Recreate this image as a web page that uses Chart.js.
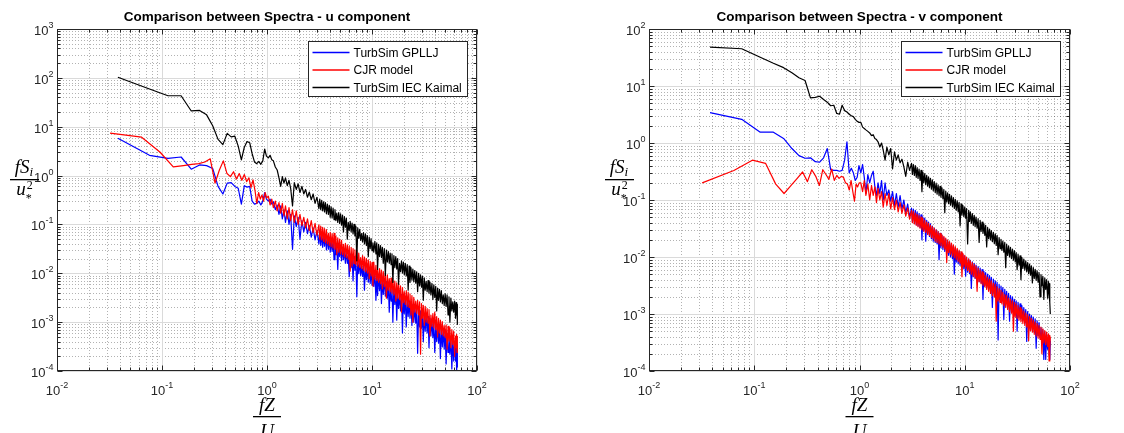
<!DOCTYPE html>
<html>
<head>
<meta charset="utf-8">
<title>Comparison between Spectra</title>
<script src="https://cdn.jsdelivr.net/npm/chart.js@4.4.1/dist/chart.umd.min.js"></script>
<style>
  html, body { margin: 0; padding: 0; background: #fff; }
  .panel { position: absolute; top: 0; width: 562px; height: 433px; }
</style>
</head>
<body>
<div class="panel" style="left:0px"><canvas id="chartU" width="562" height="433"></canvas></div>
<div class="panel" style="left:562px"><canvas id="chartV" width="562" height="433"></canvas></div>
<script>
// ---------- data ----------
// frequency bins (fZ/U): TurbSim series start at 0.038, CJR model at 0.032
const fLowBK = [0.038,0.076,0.114,0.152,0.19,0.228,0.266,0.304,0.342,0.38,0.418,0.456,0.494,0.532,0.57,0.608,0.646,0.684,0.722,0.76,0.798,0.836,0.874,0.912,0.95,0.988];
const fLowR = [0.032,0.064,0.096,0.128,0.16,0.192,0.224,0.256,0.288,0.32,0.352,0.384,0.416,0.448,0.48,0.512,0.544,0.576,0.608,0.64,0.672,0.704,0.736,0.768,0.8,0.832,0.864,0.896,0.928,0.96,0.992];
// sampled higher frequencies, shared by all series
const fMid = [1.03,1.07,1.11,1.15,1.2,1.25,1.3,1.35,1.4,1.45,1.5,1.56,1.62,1.68,1.75,1.82,1.9,1.98,2.06,2.15,2.24,2.33,2.43,2.53,2.64,2.75,2.87,2.99];
const fTail = [3.12,3.18,3.25,3.32,3.39,3.46,3.53,3.6,3.68,3.76,
  3.84,3.92,4.0,4.08,4.17,4.26,4.35,4.44,4.53,4.62,
  4.72,4.82,4.92,5.02,5.13,5.24,5.35,5.46,5.58,5.7,
  5.82,5.94,6.07,6.2,6.33,6.46,6.6,6.74,6.88,7.02,
  7.17,7.32,7.48,7.64,7.8,7.96,8.13,8.3,8.48,8.66,
  8.84,9.03,9.22,9.41,9.61,9.8,10.0,10.2,10.4,10.65,
  10.9,11.1,11.3,11.55,11.8,12.05,12.3,12.55,12.8,13.1,
  13.4,13.7,14.0,14.3,14.6,14.9,15.2,15.5,15.8,16.15,
  16.5,16.85,17.2,17.55,17.9,18.3,18.7,19.1,19.5,19.9,
  20.3,20.75,21.2,21.65,22.1,22.55,23.0,23.5,24.0,24.5,
  25.0,25.55,26.1,26.65,27.2,27.8,28.4,29.0,29.6,30.2,
  30.8,31.45,32.1,32.8,33.5,34.2,34.9,35.65,36.4,37.2,
  38.0,38.8,39.6,40.45,41.3,42.15,43.0,43.9,44.8,45.75,
  46.7,47.7,48.7,49.75,50.8,51.9,53.0,54.1,55.2,56.4,
  57.6,58.8,60.0,61.25,62.5,63.25,64.0,64.5,65.0];

// u component
const uGPLLJ = [5.8,2.6,2.25,2.4,1.35,1.65,1.6,1.4,0.6,0.42,0.7,0.72,0.6,0.55,0.26,0.62,0.58,0.6,0.3,0.26,0.27,0.3,0.25,0.3,0.45,0.33,
  0.3,0.33,0.26,0.29,0.2,0.25,0.16,0.24,0.13,0.2,0.11,0.19,0.1,0.16,0.031,0.15,0.09,0.14,0.05,0.12,0.07,0.11,0.065,0.095,0.055,0.085,0.048,0.075,
  0.04,0.072,0.037,0.064,0.034,0.06,0.036,0.058,0.03,0.055,
  0.031,0.052,0.027,0.048,0.028,0.046,0.019,0.043,0.024,0.036,
  0.012,0.038,0.022,0.034,0.018,0.033,0.019,0.03,0.016,0.029,
  0.016,0.023,0.0085,0.025,0.013,0.023,0.007,0.022,0.0115,0.02,
  0.0033,0.019,0.0098,0.0175,0.009,0.014,0.0086,0.015,0.0045,0.014,
  0.0074,0.013,0.0066,0.0122,0.0062,0.0115,0.0057,0.0112,0.0054,0.0105,
  0.0028,0.0098,0.0035,0.0092,0.0044,0.0086,0.0024,0.008,0.0037,0.0074,
  0.0034,0.0068,0.0031,0.0063,0.0016,0.0052,0.0027,0.0054,0.001,0.005,
  0.0023,0.0046,0.0011,0.0043,0.0019,0.0034,0.0017,0.0037,0.0006,0.0034,
  0.0015,0.0032,0.0008,0.0029,0.0013,0.0027,0.0012,0.0025,0.00085,0.0023,
  0.001,0.0021,0.00095,0.002,0.00023,0.0018,0.0008,0.0017,0.00075,0.0014,
  0.0004,0.0015,0.00065,0.0014,0.0006,0.0013,0.0003,0.0012,0.00052,0.0011,
  0.00048,0.001,0.00024,0.00082,0.0004,0.00088,0.00037,0.00082,0.00018,0.00076,
  0.00031,0.0007,0.00028,0.00064,0.00014,0.00058,0.00024,0.00053,0.00022,0.00049,
  0.00011,0.00045,0.00016,0.00041,0.00016,0.00037,0.00009,0.00034,0.00012];
const uCJR = [7.4,6.1,3.0,1.5,1.6,1.7,1.75,1.9,2.2,0.7,1.3,2.0,1.1,0.95,1.2,0.85,1.1,0.8,1.05,0.75,0.9,0.57,0.82,0.5,0.27,0.45,0.33,0.4,0.3,0.45,0.35,
  0.38,0.25,0.33,0.22,0.3,0.19,0.28,0.17,0.27,0.15,0.24,0.13,0.22,0.12,0.2,0.11,0.19,0.1,0.16,0.095,0.14,0.085,0.13,0.075,0.12,0.068,0.105,0.06,
  0.098,0.05,0.092,0.048,0.087,0.045,0.082,0.042,0.078,0.04,
  0.066,0.037,0.069,0.035,0.065,0.033,0.066,0.031,0.057,0.024,
  0.053,0.027,0.05,0.025,0.047,0.024,0.039,0.022,0.041,0.021,
  0.038,0.0195,0.036,0.011,0.034,0.014,0.032,0.016,0.03,0.015,
  0.028,0.014,0.026,0.0132,0.021,0.0124,0.023,0.0116,0.0215,0.0108,
  0.02,0.0101,0.0188,0.0078,0.0176,0.0088,0.0165,0.0055,0.017,0.0076,
  0.0145,0.0071,0.012,0.0066,0.0125,0.0061,0.0116,0.0048,0.0108,0.0053,
  0.01,0.0031,0.0093,0.0045,0.0078,0.0042,0.008,0.0039,0.0074,0.0036,
  0.0069,0.0027,0.0064,0.0031,0.0064,0.0029,0.0055,0.0016,0.0051,0.0025,
  0.0042,0.0023,0.0044,0.0021,0.0041,0.002,0.0038,0.0014,0.0035,0.001,
  0.0032,0.0016,0.0027,0.0015,0.0028,0.0014,0.0026,0.00022,0.0024,0.0012,
  0.0022,0.00085,0.0021,0.001,0.0019,0.00095,0.0018,0.00052,0.0014,0.00082,
  0.0015,0.00076,0.0016,0.0007,0.0013,0.0005,0.0012,0.0006,0.0011,0.00056,
  0.00102,0.00052,0.00085,0.00048,0.00088,0.00028,0.00082,0.00041,0.00076,0.0003,
  0.0007,0.00035,0.00065,0.0002,0.00052,0.0003,0.00056,0.00024,0.00052];
const uKaimal = [103,59,43,43,21,21.5,17.5,10.5,5.5,4.3,7.3,6.2,6.4,4.0,2.1,3.8,5.0,4.7,2.8,1.9,1.75,1.95,1.7,2.0,3.5,2.5,
  2.3,2.6,2.1,2.0,1.5,1.3,0.9,0.6,0.95,0.7,0.9,0.62,0.8,0.55,0.24,0.72,0.52,0.68,0.45,0.6,0.42,0.52,0.36,0.46,0.32,0.42,0.27,0.36,
  0.21,0.33,0.2,0.31,0.19,0.29,0.18,0.28,0.165,0.26,
  0.16,0.245,0.14,0.23,0.135,0.215,0.125,0.2,0.12,0.17,
  0.11,0.175,0.105,0.165,0.097,0.155,0.07,0.145,0.088,0.135,
  0.05,0.11,0.075,0.115,0.07,0.107,0.064,0.1,0.058,0.092,
  0.018,0.085,0.052,0.079,0.047,0.065,0.044,0.068,0.04,0.064,
  0.037,0.059,0.022,0.055,0.032,0.051,0.029,0.042,0.027,0.045,
  0.025,0.042,0.012,0.039,0.022,0.037,0.021,0.034,0.016,0.032,
  0.009,0.03,0.017,0.028,0.016,0.026,0.015,0.025,0.0065,0.023,
  0.013,0.022,0.0122,0.02,0.006,0.016,0.0108,0.018,0.0101,0.017,
  0.0094,0.016,0.0088,0.015,0.0045,0.014,0.0065,0.013,0.0072,0.0122,
  0.0067,0.0114,0.0063,0.0107,0.0042,0.01,0.0055,0.0093,0.0052,0.0087,
  0.0028,0.0081,0.0045,0.0068,0.0042,0.0071,0.0039,0.0066,0.0036,0.0062,
  0.0029,0.0058,0.0032,0.0054,0.0017,0.005,0.0028,0.0047,0.0026,0.0044,
  0.0024,0.0036,0.0022,0.0038,0.0021,0.0036,0.0014,0.0033,0.001,0.0031,
  0.0017,0.0026,0.0016,0.0027,0.0012,0.0025,0.0014,0.0023,0.0009];

// v component
const vGPLLJ = [3.4,2.6,1.55,1.55,1.2,0.8,0.6,0.54,0.55,0.47,0.46,0.55,0.8,0.34,0.33,0.33,0.32,0.33,0.5,1.05,0.3,0.36,0.3,0.22,0.25,0.4,
  0.3,0.42,0.25,0.13,0.28,0.2,0.27,0.32,0.17,0.12,0.2,0.13,0.22,0.1,0.2,0.12,0.15,0.095,0.14,0.08,0.13,0.075,0.12,0.07,0.1,0.06,0.085,0.05,
  0.072,0.042,0.069,0.04,0.066,0.037,0.062,0.035,0.058,0.033,
  0.055,0.02,0.05,0.029,0.048,0.019,0.044,0.025,0.041,0.023,
  0.038,0.021,0.035,0.019,0.032,0.018,0.03,0.017,0.028,0.009,
  0.026,0.0145,0.024,0.0135,0.022,0.0125,0.0205,0.0115,0.019,0.0107,
  0.0178,0.01,0.0166,0.0093,0.0155,0.005,0.0145,0.0081,0.0135,0.0076,
  0.0126,0.0071,0.0118,0.0066,0.011,0.0062,0.0103,0.0046,0.0097,0.0054,
  0.0092,0.0051,0.0087,0.0028,0.0082,0.0045,0.0077,0.0042,0.0072,0.004,
  0.0068,0.0037,0.0064,0.0035,0.006,0.0018,0.0056,0.0031,0.0053,0.0029,
  0.005,0.0027,0.0047,0.0026,0.0044,0.0013,0.0041,0.0023,0.0038,0.0021,
  0.0036,0.00035,0.0033,0.0018,0.0031,0.0017,0.0029,0.0008,0.0027,0.0015,
  0.0025,0.0014,0.0023,0.00075,0.0021,0.0012,0.002,0.0011,0.0018,0.001,
  0.0017,0.0005,0.0016,0.00088,0.0015,0.00082,0.0014,0.00076,0.0013,0.0007,
  0.0012,0.00033,0.0011,0.0006,0.001,0.00056,0.00094,0.00052,0.00088,0.00048,
  0.00082,0.00025,0.00076,0.00042,0.00071,0.00039,0.00058,0.00031,0.00053,0.00016,
  0.00048,0.00016,0.00044,0.00024,0.0004,0.00021,0.00037,0.00016,0.00034];
const vCJR = [0.2,0.33,0.5,0.44,0.19,0.13,0.18,0.24,0.31,0.21,0.34,0.26,0.18,0.34,0.28,0.23,0.35,0.22,0.27,0.24,0.26,0.25,0.2,0.19,0.15,0.22,0.14,0.095,0.19,0.17,0.2,
  0.2,0.14,0.22,0.12,0.19,0.1,0.18,0.12,0.17,0.09,0.16,0.1,0.14,0.075,0.13,0.08,0.13,0.07,0.11,0.068,0.1,0.062,0.09,0.058,0.082,0.052,0.072,0.046,
  0.066,0.04,0.063,0.038,0.059,0.036,0.056,0.034,0.053,0.032,
  0.05,0.03,0.047,0.028,0.044,0.027,0.041,0.025,0.039,0.024,
  0.036,0.022,0.034,0.021,0.032,0.019,0.03,0.018,0.028,0.017,
  0.026,0.0158,0.0245,0.0148,0.023,0.0138,0.0215,0.008,0.02,0.012,
  0.0187,0.0112,0.0175,0.0104,0.0163,0.0097,0.0152,0.009,0.0142,0.0084,
  0.0132,0.0078,0.0123,0.0045,0.0115,0.0068,0.0107,0.0063,0.01,0.0058,
  0.0093,0.0054,0.0086,0.005,0.008,0.0046,0.0074,0.0043,0.0069,0.0025,
  0.0064,0.0037,0.0059,0.0034,0.0055,0.0032,0.0051,0.003,0.0047,0.0027,
  0.0044,0.0025,0.0041,0.0023,0.0038,0.0021,0.0035,0.002,0.0033,0.00075,
  0.003,0.0017,0.0028,0.0016,0.0026,0.0015,0.0024,0.0014,0.0022,0.0013,
  0.0021,0.0012,0.0019,0.0011,0.0018,0.00103,0.0017,0.0005,0.0016,0.0009,
  0.0015,0.00084,0.0014,0.00078,0.0013,0.00073,0.0012,0.00068,0.00112,0.00063,
  0.00104,0.00059,0.00097,0.00034,0.0009,0.00051,0.00084,0.00048,0.00078,0.00044,
  0.00073,0.00041,0.00068,0.00038,0.00063,0.00036,0.00059,0.0002,0.00055,0.00031,
  0.00051,0.00029,0.00048,0.00027,0.00045,0.00015,0.00042,0.00024,0.0004];
const vKaimal = [48,45,32,25,21,17,14,12.5,6.2,6.3,6.6,5.8,5.2,4.5,4.6,3.3,3.2,4.6,3.7,3.5,3.2,3.0,2.9,2.6,2.4,2.3,
  2.3,1.9,1.8,1.7,1.6,1.5,1.35,1.4,1.2,1.15,1.05,0.85,1.0,0.75,0.5,0.85,0.62,0.8,0.35,0.7,0.5,0.62,0.45,0.52,0.38,0.26,0.46,0.33,
  0.44,0.28,0.42,0.27,0.4,0.25,0.37,0.24,0.35,0.22,
  0.33,0.14,0.31,0.2,0.29,0.185,0.27,0.175,0.255,0.165,
  0.24,0.155,0.225,0.145,0.21,0.135,0.197,0.127,0.185,0.119,
  0.174,0.112,0.163,0.105,0.153,0.06,0.143,0.092,0.134,0.086,
  0.126,0.081,0.118,0.076,0.11,0.071,0.103,0.066,0.097,0.062,
  0.091,0.035,0.085,0.054,0.08,0.051,0.075,0.048,0.071,0.017,
  0.066,0.042,0.062,0.039,0.058,0.036,0.054,0.034,0.05,0.032,
  0.047,0.018,0.044,0.028,0.041,0.026,0.038,0.024,0.036,0.015,
  0.033,0.021,0.031,0.02,0.029,0.0185,0.027,0.0172,0.0255,0.016,
  0.024,0.011,0.022,0.014,0.0205,0.013,0.019,0.0122,0.018,0.0065,
  0.0168,0.0107,0.0157,0.01,0.0147,0.0094,0.0138,0.0088,0.0129,0.0082,
  0.012,0.006,0.0112,0.0072,0.0105,0.004,0.0098,0.0063,0.0092,0.0059,
  0.0086,0.0055,0.008,0.0051,0.0075,0.0048,0.007,0.0035,0.0065,0.0042,
  0.0061,0.0039,0.0057,0.0036,0.0053,0.002,0.0049,0.0031,0.0046,0.0018,
  0.0043,0.0027,0.004,0.0019,0.0037,0.0023,0.0034,0.0016,0.001];

// axis ticks (labels are 10^exp)
const xTicks = [0.01, 0.1, 1, 10, 100];
const xTickExp = ['-2', '-1', '0', '1', '2'];
const yTicksU = [1e-4, 1e-3, 1e-2, 1e-1, 1, 10, 100, 1000];
const yTickExpU = ['-4', '-3', '-2', '-1', '0', '1', '2', '3'];
const yTicksV = [1e-4, 1e-3, 1e-2, 1e-1, 1, 10, 100];
const yTickExpV = ['-4', '-3', '-2', '-1', '0', '1', '2'];

const seriesLabels = ['TurbSim GPLLJ', 'CJR model', 'TurbSim IEC Kaimal'];
const seriesColors = ['#0000ff', '#ff0000', '#000000'];

const fBK = fLowBK.concat(fMid, fTail);
const fR = fLowR.concat(fMid, fTail);

// ---------- helpers ----------
const AXIS_COLOR = '#262626';
const SANS = '"Liberation Sans", Arial, Helvetica, sans-serif';
const SERIF = '"Liberation Serif", "Times New Roman", serif';

function toPoints(freqs, vals) {
    return vals.map((v, i) => ({ x: freqs[i], y: v }));
}

// walk the scale's own log ticks, keep 1..9 x 10^n
function eachTick(scale, fn) {
    scale.ticks.forEach(t => {
        const e = Math.floor(Math.log10(t.value) + 1e-9);
        const m = t.value / Math.pow(10, e);
        if (Math.abs(m - Math.round(m)) > 1e-6) return;
        const major = Math.abs(m - 1) < 1e-6;
        fn(Math.round(scale.getPixelForValue(t.value)) + 0.5, major);
    });
}

function line(ctx, x1, y1, x2, y2) {
    ctx.beginPath();
    ctx.moveTo(x1, y1);
    ctx.lineTo(x2, y2);
    ctx.stroke();
}

// "10" with a superscript exponent
function drawPow(ctx, exp, x, y, align) {
    ctx.font = '13px ' + SANS;
    const wb = ctx.measureText('10').width;
    ctx.font = '9px ' + SANS;
    const we = ctx.measureText(exp).width;
    const x0 = align === 'right' ? x - wb - we : x - (wb + we) / 2;
    ctx.textAlign = 'left';
    ctx.textBaseline = 'alphabetic';
    ctx.font = '13px ' + SANS;
    ctx.fillText('10', x0, y);
    ctx.font = '9px ' + SANS;
    ctx.fillText(exp, x0 + wb, y - 7);
}

// MATLAB style grid, box, ticks and texts
const matlabAxes = {
    id: 'matlabAxes',
    beforeDatasetsDraw(chart) {
        const { ctx, chartArea: a, scales } = chart;
        ctx.save();
        ctx.lineWidth = 1;
        // minor grid (dotted)
        ctx.strokeStyle = 'rgba(0,0,0,0.3)';
        ctx.setLineDash([1, 2]);
        eachTick(scales.x, (p, major) => { if (!major) line(ctx, p, a.top, p, a.bottom); });
        eachTick(scales.y, (p, major) => { if (!major) line(ctx, a.left, p, a.right, p); });
        // major grid (solid, light)
        ctx.setLineDash([]);
        ctx.strokeStyle = '#dadada';
        eachTick(scales.x, (p, major) => { if (major) line(ctx, p, a.top, p, a.bottom); });
        eachTick(scales.y, (p, major) => { if (major) line(ctx, a.left, p, a.right, p); });
        ctx.restore();
    },
    afterDatasetsDraw(chart, args, o) {
        const { ctx, chartArea: a, scales } = chart;
        const L = Math.round(a.left) + 0.5, R = Math.round(a.right) - 0.5;
        const T = Math.round(a.top) + 0.5, B = Math.round(a.bottom) - 0.5;
        ctx.save();

        // box and inward ticks on all sides
        ctx.strokeStyle = AXIS_COLOR;
        ctx.lineWidth = 1;
        ctx.strokeRect(L, T, R - L, B - T);
        eachTick(scales.x, (p, major) => {
            const len = major ? 5 : 3;
            line(ctx, p, B, p, B - len);
            line(ctx, p, T, p, T + len);
        });
        eachTick(scales.y, (p, major) => {
            const len = major ? 5 : 3;
            line(ctx, L, p, L + len, p);
            line(ctx, R, p, R - len, p);
        });

        // tick labels
        ctx.fillStyle = AXIS_COLOR;
        xTicks.forEach((v, i) => drawPow(ctx, xTickExp[i], scales.x.getPixelForValue(v), B + 24, 'center'));
        o.yTicks.forEach((v, i) => drawPow(ctx, o.yTickExp[i], L - 4, scales.y.getPixelForValue(v) + 6, 'right'));

        // title
        ctx.fillStyle = '#000';
        ctx.font = 'bold 13.5px ' + SANS;
        ctx.textAlign = 'center';
        ctx.textBaseline = 'alphabetic';
        ctx.fillText(o.title, (a.left + a.right) / 2, 21);

        // x label: fZ / U
        const cx = (a.left + a.right) / 2;
        ctx.font = 'italic 19px ' + SERIF;
        ctx.fillText('fZ', cx, 411);
        ctx.fillText('U', cx, 437);
        ctx.fillRect(cx - 14, 416, 28, 1.3);

        // y label: f S_i / u_*^2
        const yx = o.yLabelX, yb = 179;
        ctx.textAlign = 'left';
        ctx.font = 'italic 19px ' + SERIF;
        const wf = ctx.measureText('fS').width;
        ctx.font = 'italic 13px ' + SERIF;
        const wi = ctx.measureText('i').width;
        const nx = yx - (wf + wi) / 2;
        ctx.font = 'italic 19px ' + SERIF;
        ctx.fillText('fS', nx, yb - 6);
        ctx.font = 'italic 13px ' + SERIF;
        ctx.fillText('i', nx + wf, yb - 3);
        ctx.font = 'italic 19px ' + SERIF;
        const wu = ctx.measureText('u').width;
        const ux = yx - (wu + 6) / 2;
        ctx.fillText('u', ux, yb + 16);
        ctx.font = '12px ' + SERIF;
        ctx.fillText('2', ux + wu + 1, yb + 10);
        ctx.fillText('*', ux + wu, yb + 23);
        ctx.fillRect(yx - 14, yb, 29, 1.3);

        // legend box (north east)
        ctx.font = '12px ' + SANS;
        const tw = Math.max(...seriesLabels.map(s => ctx.measureText(s).width));
        const bw = Math.round(4 + 37 + 4 + tw + 6), bh = 55;
        const bx = Math.round(a.right - 10 - bw) + 0.5, by = Math.round(a.top + 12) + 0.5;
        ctx.fillStyle = '#fff';
        ctx.fillRect(bx, by, bw, bh);
        ctx.strokeStyle = AXIS_COLOR;
        ctx.strokeRect(bx, by, bw, bh);
        ctx.lineWidth = 1.5;
        seriesLabels.forEach((s, i) => {
            const ry = by + 11 + i * 17.5;
            ctx.strokeStyle = seriesColors[i];
            line(ctx, bx + 4, ry, bx + 41, ry);
            ctx.fillStyle = '#000';
            ctx.textBaseline = 'middle';
            ctx.fillText(s, bx + 45, ry + 1);
        });
        ctx.restore();
    }
};

function makeChart(id, opt) {
    const g = opt.box;
    const ds = (i, freqs, vals, order) => ({
        label: seriesLabels[i],
        data: toPoints(freqs, vals),
        borderColor: seriesColors[i],
        borderWidth: 1.2,
        borderJoinStyle: 'round',
        pointRadius: 0,
        tension: 0,
        fill: false,
        order: order
    });
    return new Chart(document.getElementById(id), {
        type: 'line',
        data: {
            datasets: [
                ds(0, fBK, opt.gpllj, 3),
                ds(1, fR, opt.cjr, 2),
                ds(2, fBK, opt.kaimal, 1)
            ]
        },
        options: {
            responsive: false,
            animation: false,
            devicePixelRatio: 1,
            events: [],
            layout: { padding: { left: 0, right: 562 - g.right, top: g.top, bottom: 0 } },
            plugins: {
                legend: { display: false },
                tooltip: { enabled: false },
                matlabAxes: { title: opt.title, yTicks: opt.yTicks, yTickExp: opt.yTickExp, yLabelX: opt.yLabelX }
            },
            scales: {
                x: {
                    type: 'logarithmic', min: 0.01, max: 100,
                    grid: { display: false }, border: { display: false },
                    ticks: { display: false, autoSkip: false },
                    afterFit: s => { s.height = 433 - g.bottom; }
                },
                y: {
                    type: 'logarithmic', min: opt.yTicks[0], max: opt.yTicks[opt.yTicks.length - 1],
                    grid: { display: false }, border: { display: false },
                    ticks: { display: false, autoSkip: false },
                    afterFit: s => { s.width = g.left; }
                }
            }
        },
        plugins: [matlabAxes]
    });
}

makeChart('chartU', {
    title: 'Comparison between Spectra - u component',
    box: { left: 57, right: 477, top: 29, bottom: 371 },
    yTicks: yTicksU, yTickExp: yTickExpU, yLabelX: 24,
    gpllj: uGPLLJ, cjr: uCJR, kaimal: uKaimal
});

makeChart('chartV', {
    title: 'Comparison between Spectra - v component',
    box: { left: 87, right: 508, top: 29, bottom: 371 },
    yTicks: yTicksV, yTickExp: yTickExpV, yLabelX: 57,
    gpllj: vGPLLJ, cjr: vCJR, kaimal: vKaimal
});
</script>
</body>
</html>
